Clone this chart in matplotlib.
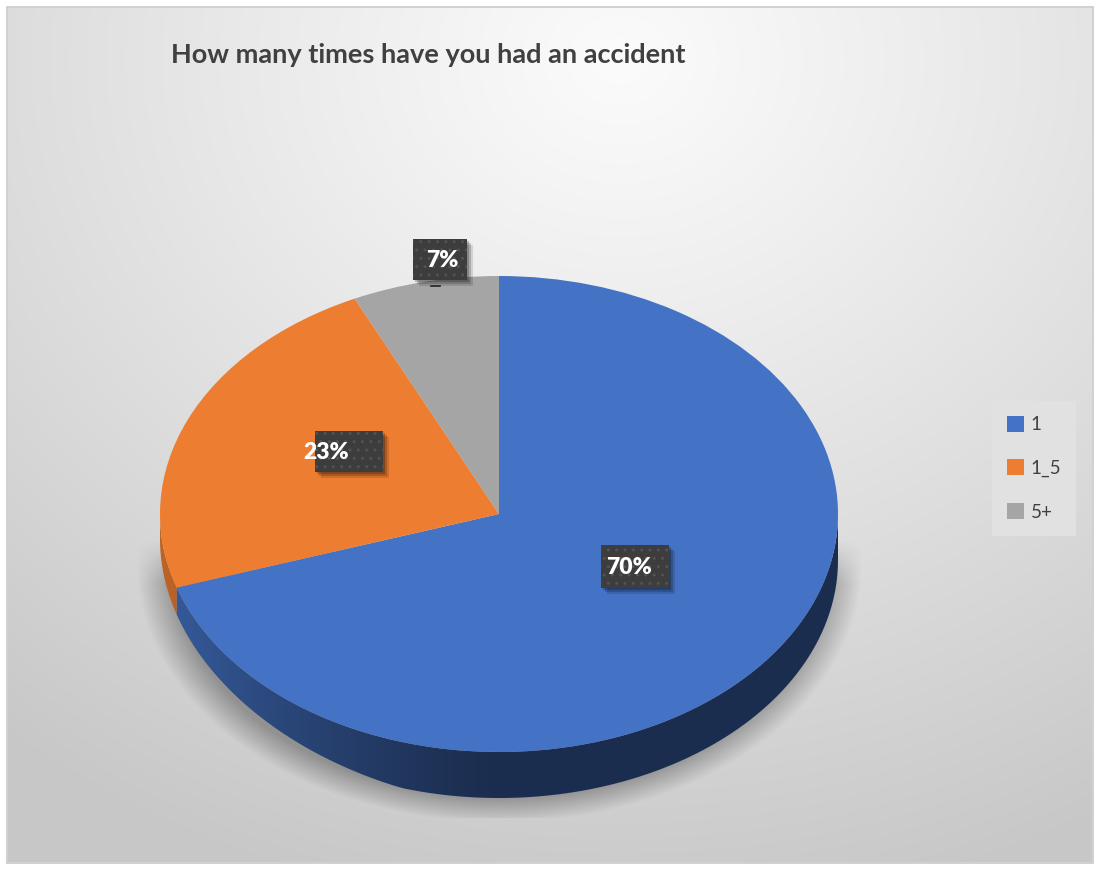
import numpy as np
import matplotlib.pyplot as plt
from matplotlib.patches import Polygon, Rectangle
from matplotlib.colors import to_rgb

# data
categories = ['1', '1_5', '5+']
shares = [70, 23, 7]
colors = ['#4472C4', '#ED7D31', '#A5A5A5']
title = 'How many times have you had an accident'

W, H = 1097, 869
# pie layout in pixels (centre, radii, thickness)
cx, cy, rx, ry = 499, 514, 339, 238
depth = 46

fig = plt.figure(figsize=(W / 100, H / 100), dpi=100)
fig.patch.set_facecolor('white')

# background with soft radial gradient
bg = fig.add_axes([0, 0, 1, 1])
bg.set_xlim(0, W)
bg.set_ylim(H, 0)
bg.axis('off')
yy, xx = np.mgrid[8:862, 8:1092]
d = np.sqrt((xx - 620) ** 2 + ((yy - 60) * 1.15) ** 2)
shade = 251 - 52 * np.clip(d / 1000, 0, 1) ** 1.1
bg.imshow(np.dstack([shade] * 3).astype(np.uint8), extent=(8, 1092, 862, 8), zorder=0)
bg.add_patch(Rectangle((7, 7), 1086, 856, fill=False, edgecolor='#c8c8c8', lw=1.2, zorder=1))

# soft shadow below the pie
sy, sx = np.mgrid[440:818, 100:900]
r = np.sqrt(((sx - cx) / (rx + 24)) ** 2 + ((sy - (cy + depth + 4)) / (ry + 20)) ** 2)
alpha = np.clip((1.0 - r) / 0.10, 0, 1) * 0.3
alpha *= np.clip((sy - (cy + 25)) / 45, 0, 1)
sh = np.zeros(sx.shape + (4,))
sh[..., 3] = alpha
bg.imshow(sh, extent=(100, 900, 818, 440), zorder=2)

# pie axes: unit circle maps onto the ellipse
pax = fig.add_axes([0, 0, 1, 1])
pax.patch.set_alpha(0)
wedges, _ = pax.pie(shares, colors=colors, startangle=90, counterclock=False,
                    radius=1, wedgeprops=dict(linewidth=0, zorder=3))
pax.set_aspect('auto')
pax.axis('off')

# side of the pie (front half only)
dd = depth / ry
ang = 90 - np.cumsum([0] + shares) / sum(shares) * 360
for i in range(len(shares)):
    lo, hi = ang[i + 1], ang[i]
    for k in (-1, 0, 1):
        a, b = max(lo, -180 + 360 * k), min(hi, 360 * k)
        if b <= a:
            continue
        t = np.radians(np.linspace(a, b, 120))
        top = np.column_stack([np.cos(t), np.sin(t)])
        # thinner wall toward the far left, like the perspective view
        wall = dd * np.clip(0.55 + 0.45 * (np.cos(t[::-1]) + 1.0) * 1.4, 0, 1)
        bot = np.column_stack([np.cos(t[::-1]), np.sin(t[::-1]) - wall])
        poly = Polygon(np.vstack([top, bot]), closed=True, fc='none', lw=0)
        pax.add_patch(poly)
        xs = np.linspace(-1, 1, 400)
        f = 0.40 + 0.40 * np.clip(-xs, 0, 1) ** 1.3
        grad = np.clip(np.array(to_rgb(colors[i]))[None, :] * f[:, None], 0, 1)
        img = np.repeat(grad[None, :, :], 2, axis=0)
        im = pax.imshow(img, extent=(-1, 1, -1 - dd - 0.02, 0.02), aspect='auto', zorder=2)
        im.set_clip_path(poly)
pax.set_xlim((0 - cx) / rx, (W - cx) / rx)
pax.set_ylim((cy - H) / ry, cy / ry)

# overlay for data labels
ov = fig.add_axes([0, 0, 1, 1])
ov.patch.set_alpha(0)
ov.set_xlim(0, W)
ov.set_ylim(H, 0)
ov.axis('off')

boxes = [(601, 545, 68, 43, 629), (315, 431, 68, 41, 326), (413, 239, 54, 41, 442)]
for (bx, by, bw, bh, tx), v in zip(boxes, shares):
    for off, a in ((6, 0.12), (4, 0.18), (2, 0.22)):
        ov.add_patch(Rectangle((bx + off, by + off), bw, bh, fc='black', alpha=a, lw=0, zorder=4))
    ov.add_patch(Rectangle((bx, by), bw, bh, fc='#3d3d3d', ec='#525252', hatch='..', lw=0, zorder=5))
    ov.text(tx, by + bh / 2 + 1, f'{v}%', color='white', fontsize=16.5, fontweight='heavy',
            family='Lato', ha='center', va='center', zorder=6)
ov.plot([431, 440], [286, 286], color='#222222', lw=1.2, zorder=5)

# title
fig.text(171 / W, 1 - 55 / H, title, ha='left', va='center', fontsize=19.5,
         fontweight='bold', family='Lato', color='#404040')

# legend
leg = fig.legend(wedges, categories, loc='upper left', bbox_to_anchor=(992 / W, 1 - 401 / H),
                 frameon=True, fancybox=False, facecolor='#e1e1e1', edgecolor='none', framealpha=1,
                 handlelength=0.9, handleheight=0.9, handletextpad=0.35, labelspacing=1.4,
                 borderpad=0.8, borderaxespad=0, prop=dict(family='Lato', size=13.5))
for txt in leg.get_texts():
    txt.set_color('#404040')

fig.savefig('out.png', dpi=100)
